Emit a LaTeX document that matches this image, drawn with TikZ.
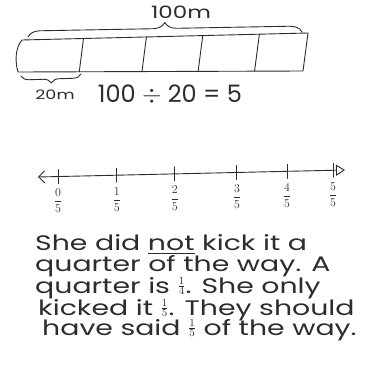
\documentclass[tikz,border=0pt]{standalone}
\usepackage{amsmath}
\usepackage{fontspec}
\setmainfont{Poppins}[FakeStretch=1.35]
\newfontfamily\plainhand{Poppins}
\usetikzlibrary{arrows.meta,calc,decorations.pathreplacing}
\definecolor{inkgray}{RGB}{45,45,45}
\newcommand{\hfrac}[2]{\raisebox{3pt}{\ensuremath{\genfrac{}{}{0.7pt}{2}{#1}{#2}}}}

\begin{document}
\begin{tikzpicture}[x=1pt, y=-1pt,
    pen/.style={draw=inkgray, line width=0.9pt, line cap=round, line join=round},
    hand/.style={font=\fontsize{21}{23}\selectfont, text=inkgray,
        inner sep=0pt, anchor=base west},
    ticklabel/.style={font=\fontsize{12.5}{14}\selectfont, text=inkgray,
        inner sep=0pt, anchor=north}
]
\useasboundingbox[fill=white] (0,0) rectangle (379,367);

% tape diagram
\coordinate (tl) at (22,40);
\coordinate (tr) at (308,33);
\coordinate (br) at (303,71);
\coordinate (bl) at (18,72);
\draw[pen] (tl) -- (tr) -- (br) -- (bl) .. controls (15,62) and (15,48) .. (tl);
\foreach \t in {0.215,0.435,0.632,0.83}
    \draw[pen] ($(tl)!\t!(tr)$) -- ($(bl)!\t!(br)$);

\draw[pen, decorate, decoration={brace, amplitude=12pt}] (28,37) -- (302,32);
\draw[pen, decorate, decoration={brace, amplitude=8pt, mirror}] (21,76) -- (81,74);

\node[font=\fontsize{17}{19}\selectfont, text=inkgray, inner sep=0pt] (total) at (181,12) {100m};
\node[font=\fontsize{13}{15}\selectfont, text=inkgray, inner sep=0pt] (part) at (55,95) {20m};
\node[font=\plainhand\fontsize{24}{26}\selectfont, text=inkgray, inner sep=0pt] (division) at (170,95) {100 $\div$ 20 = 5};

% number line
\coordinate (nl) at (38,177);
\coordinate (nr) at (345,170);
\draw[pen, {Straight Barb[length=6pt,width=12pt]}-{Triangle[open,length=9pt,width=11pt]}] (nl) -- (nr);
\foreach \i/\t in {0/0.065,1/0.257,2/0.446,3/0.648,4/0.811,5/0.961} {
    \coordinate (tick\i) at ($(nl)!\t!(nr)$);
    \draw[pen] ($(tick\i)+(0,-7)$) -- ($(tick\i)+(0,7)$);
    \node[ticklabel] (frac\i) at ($(tick\i)+(0,12)$) {$\dfrac{\i}{5}$};
}

% explanation
\node[hand] (line1) at (35,250) {She did \underline{not} kick it a};
\node[hand] (line2) at (35,271) {quarter of the way. A};
\node[hand] (line3) at (35,293) {quarter is \hfrac{1}{4}. She only};
\node[hand] (line4) at (38,315) {kicked it \hfrac{1}{5}. They should};
\node[hand] (line5) at (42,335) {have said \hfrac{1}{5} of the way.};
\end{tikzpicture}
\end{document}
